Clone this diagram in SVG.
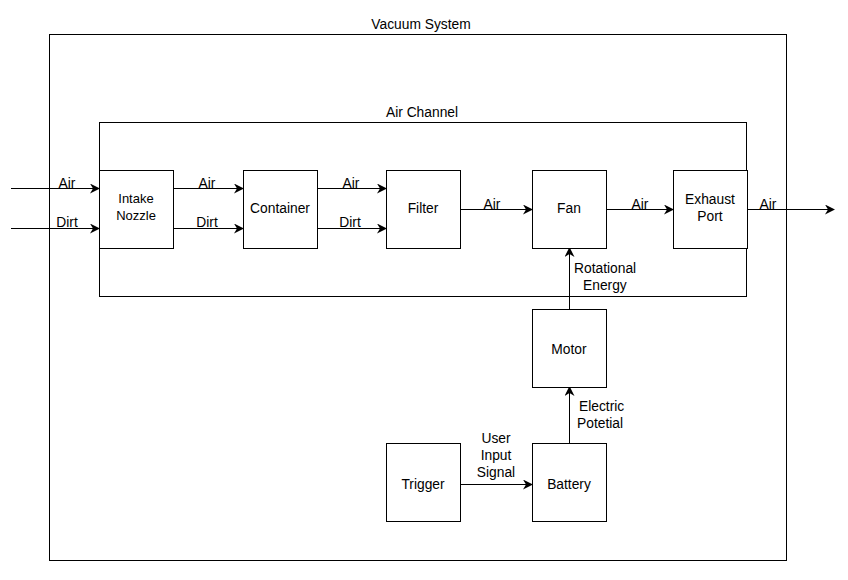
<svg xmlns="http://www.w3.org/2000/svg" width="848" height="580" viewBox="0 0 848 580">
<defs>
<marker id="ah" viewBox="0 0 10 10" refX="9" refY="5" markerWidth="10" markerHeight="10" markerUnits="userSpaceOnUse" orient="auto">
<path d="M0,0 L10,5 L0,10 L3,5 Z" fill="#000"/>
</marker>
</defs>
<style>
.box{fill:#fff;stroke:#000;stroke-width:1}
.frame{fill:none;stroke:#000;stroke-width:1}
text{font-family:"Liberation Sans",Arial,sans-serif;font-size:13.8px;fill:#000}
.s{font-size:13px}
.c{text-anchor:middle}
.edge{stroke:#000;stroke-width:1;fill:none;marker-end:url(#ah)}
</style>
<rect width="848" height="580" fill="#fff"/>
<g id="vacuum-system">
<rect class="frame" x="49.5" y="34.5" width="737" height="526"/>
<text class="c" x="421" y="29">Vacuum System</text>
</g>
<g id="air-channel">
<rect class="frame" x="99.5" y="122.5" width="647" height="174"/>
<text class="c" x="422" y="117">Air Channel</text>
</g>
<g id="connectors">
<line class="edge" x1="11" y1="188.5" x2="99" y2="188.5"/>
<line class="edge" x1="11" y1="228.5" x2="99" y2="228.5"/>
<line class="edge" x1="173" y1="188.5" x2="243" y2="188.5"/>
<line class="edge" x1="173" y1="228.5" x2="243" y2="228.5"/>
<line class="edge" x1="317" y1="188.5" x2="386" y2="188.5"/>
<line class="edge" x1="317" y1="228.5" x2="386" y2="228.5"/>
<line class="edge" x1="460" y1="209.5" x2="532" y2="209.5"/>
<line class="edge" x1="606" y1="209.5" x2="673" y2="209.5"/>
<line class="edge" x1="747" y1="209.5" x2="834" y2="209.5"/>
<line class="edge" x1="569.5" y1="309" x2="569.5" y2="248"/>
<line class="edge" x1="569.5" y1="443" x2="569.5" y2="387"/>
<line class="edge" x1="460" y1="484.5" x2="532" y2="484.5"/>
<text class="c" x="67" y="188">Air</text>
<text class="c" x="67" y="227">Dirt</text>
<text class="c" x="207" y="188">Air</text>
<text class="c" x="207" y="227">Dirt</text>
<text class="c" x="351" y="188">Air</text>
<text class="c" x="350" y="227">Dirt</text>
<text class="c" x="492" y="209">Air</text>
<text class="c" x="640" y="209">Air</text>
<text class="c" x="768" y="209">Air</text>
<text x="574" y="273">Rotational</text>
<text x="583" y="290">Energy</text>
<text x="579" y="411">Electric</text>
<text x="577" y="428">Potetial</text>
<text class="c" x="496" y="443">User</text>
<text class="c" x="496" y="460">Input</text>
<text class="c" x="496" y="477">Signal</text>
</g>
<g id="intake-nozzle">
<rect class="box" x="99.5" y="170.5" width="74" height="78"/>
<text class="c s" x="136" y="203">Intake</text>
<text class="c s" x="136" y="220">Nozzle</text>
</g>
<g id="container">
<rect class="box" x="243.5" y="170.5" width="74" height="78"/>
<text class="c" x="280" y="213">Container</text>
</g>
<g id="filter">
<rect class="box" x="386.5" y="170.5" width="74" height="78"/>
<text class="c" x="423" y="213">Filter</text>
</g>
<g id="fan">
<rect class="box" x="532.5" y="170.5" width="74" height="78"/>
<text class="c" x="569" y="213">Fan</text>
</g>
<g id="exhaust-port">
<rect class="box" x="673.5" y="170.5" width="74" height="78"/>
<text class="c" x="710" y="204">Exhaust</text>
<text class="c" x="710" y="221">Port</text>
</g>
<g id="motor">
<rect class="box" x="532.5" y="309.5" width="74" height="78"/>
<text class="c" x="569" y="354">Motor</text>
</g>
<g id="trigger">
<rect class="box" x="386.5" y="443.5" width="74" height="78"/>
<text class="c" x="423" y="489">Trigger</text>
</g>
<g id="battery">
<rect class="box" x="532.5" y="443.5" width="74" height="78"/>
<text class="c" x="569" y="489">Battery</text>
</g>
</svg>
